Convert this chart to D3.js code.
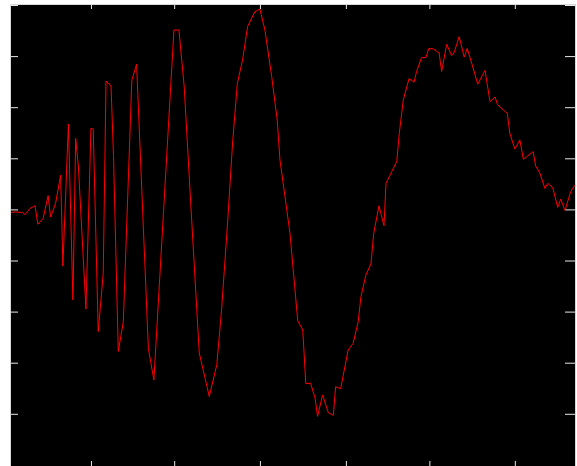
<!DOCTYPE html>
<html>
<head>
<meta charset="utf-8">
<script src="https://cdn.jsdelivr.net/npm/d3@7"></script>
<style>
  body { margin: 0; background: #fff; }
  svg { display: block; }
</style>
</head>
<body>
<script>
// sample positions of the visible vertices (sample index, 0..225)
var sampleT = [
  0, 1.6, 4.6, 5.6, 7.6, 9.6, 10.7, 12.8, 14.8, 15.8, 17.8, 19.8, 20.7, 22.9,
  24.7, 25.8, 26.9, 29.9, 31.9, 32.8, 34.8, 36.8, 37.9, 39.9, 40.9, 42.8, 44.8,
  48.2, 50.1, 54.8, 57.0, 65.0, 67.0, 69.1, 71.4, 75.1, 79.1, 82.1, 84.0, 86.3,
  88.4, 90.3, 92.4, 94.4, 97.3, 99.3, 101.3, 104.0, 106.2, 107.3, 109.3, 111.3,
  114.4, 116.4, 117.6, 119.5, 121.3, 122.3, 124.3, 126.6, 128.6, 129.5, 131.5,
  134.5, 136.5, 138.5, 139.6, 141.6, 143.6, 144.7, 146.8, 148.8, 149.6, 151.9,
  153.9, 154.9, 156.5, 158.8, 160.8, 161.8, 163.8, 165.5, 166.7, 168.5, 170.8,
  171.8, 173.8, 175.8, 176.7, 178.8, 180.8, 182.0, 183.8, 186.2, 189.1, 191.1,
  193.1, 194.1, 198.0, 199.0, 201.0, 203.0, 204.4, 208.3, 209.3, 211.0, 213.0,
  214.1, 216.1, 218.1, 219.3, 221.0, 223.3, 225
];

// signal amplitude at those samples
var signal = [
  -0.06, -0.05, -0.06, -0.1, 0.02, 0.07, -0.29, -0.18, 0.27, -0.15, 0.12, 0.67,
  -1.11, 1.67, -1.77, 1.39, 0.83, -1.95, 1.59, 1.57, -2.39, -1.25, 2.51, 2.42,
  1.03, -2.78, -2.2, 2.53, 2.84, -2.72, -3.34, 3.51, 3.51, 2.4, 0.38, -2.81,
  -3.66, -3.04, -1.97, -0.34, 1.3, 2.47, 2.93, 3.58, 3.87, 3.92, 3.51, 2.6,
  1.75, 0.97, 0.25, -0.47, -2.18, -2.36, -3.41, -3.4, -3.69, -4.05, -3.63,
  -3.98, -4.03, -3.47, -3.51, -2.75, -2.62, -2.2, -1.71, -1.28, -1.07, -0.47,
  0.07, -0.32, 0.51, 0.74, 0.94, 1.49, 2.14, 2.56, 2.49, 2.7, 2.97, 2.97, 3.15,
  3.14, 3.06, 2.7, 3.23, 3.01, 3.06, 3.38, 2.98, 3.15, 2.86, 2.45, 2.72, 2.11,
  2.2, 2.05, 1.88, 1.49, 1.18, 1.36, 0.98, 1.13, 0.85, 0.71, 0.41, 0.51, 0.43,
  0.04, 0.2, -0.02, 0.35, 0.48
];

// tick positions (no labels are shown)
var xTicks = [31.9, 65.1, 99.3, 133.6, 166.9, 201];
var yTicks = [-4, -3, -2, -1, 0, 1, 2, 3, 4];

var svgWidth = 577,
  svgHeight = 466,
  plotLeft = 11,
  plotRight = 575,
  plotTop = 5,
  plotBottom = 470;

window.onload = drawChart;

function drawChart() {
  var svg = d3
    .select("body")
    .append("svg")
    .attr("width", svgWidth)
    .attr("height", svgHeight);

  var x = d3.scaleLinear().domain([0, 225]).range([plotLeft, plotRight]);
  var y = d3.scaleLinear().domain([-5, 4]).range([464.9, plotTop]);

  // black axes box with a light frame
  svg
    .append("rect")
    .attr("x", plotLeft - 0.5)
    .attr("y", plotTop - 0.5)
    .attr("width", plotRight - plotLeft + 1)
    .attr("height", plotBottom - plotTop)
    .attr("fill", "#000")
    .attr("stroke", "#d8d8d8")
    .attr("stroke-width", 1);

  // ticks pointing inwards on all four sides
  var tickColor = "#e8e8e8";
  svg
    .append("g")
    .attr("transform", "translate(" + plotLeft + ",0)")
    .call(d3.axisRight(y).tickValues(yTicks).tickSize(7).tickFormat(""))
    .call((g) => g.select(".domain").remove())
    .selectAll("line")
    .attr("stroke", tickColor);

  svg
    .append("g")
    .attr("transform", "translate(" + plotRight + ",0)")
    .call(d3.axisLeft(y).tickValues(yTicks).tickSize(10).tickFormat(""))
    .call((g) => g.select(".domain").remove())
    .selectAll("line")
    .attr("stroke", tickColor);

  svg
    .append("g")
    .attr("transform", "translate(0," + plotTop + ")")
    .call(d3.axisBottom(x).tickValues(xTicks).tickSize(4).tickFormat(""))
    .call((g) => g.select(".domain").remove())
    .selectAll("line")
    .attr("stroke", tickColor);

  svg
    .append("g")
    .attr("transform", "translate(0," + svgHeight + ")")
    .call(d3.axisTop(x).tickValues(xTicks).tickSize(5).tickFormat(""))
    .call((g) => g.select(".domain").remove())
    .selectAll("line")
    .attr("stroke", tickColor);

  var line = d3
    .line()
    .x((d, i) => x(sampleT[i]))
    .y((d) => y(d));

  svg
    .append("path")
    .datum(signal)
    .attr("d", line)
    .attr("fill", "none")
    .attr("stroke", "#ff0000")
    .attr("stroke-width", 1)
    .attr("stroke-linejoin", "round");
}
</script>
</body>
</html>
